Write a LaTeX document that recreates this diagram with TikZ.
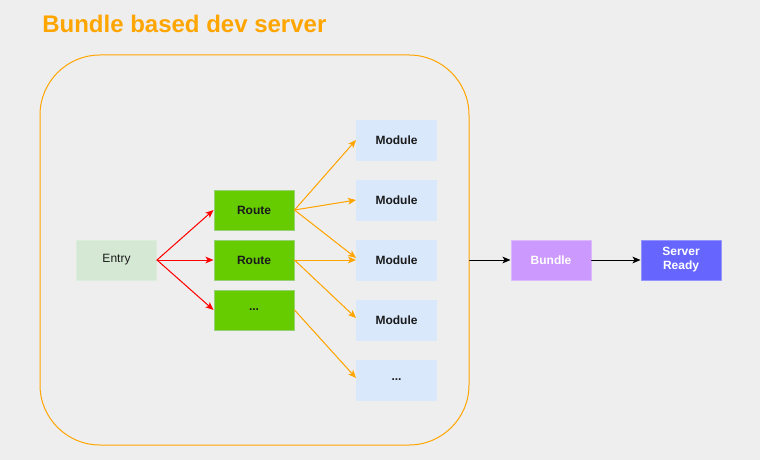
\documentclass[tikz,border=0pt]{standalone}
\usepackage{fontspec}
\setmainfont{Liberation Sans}
\usetikzlibrary{arrows.meta}

\definecolor{bgcol}{HTML}{EEEEEE}
\definecolor{titlecol}{HTML}{FFA500}
\definecolor{entrycol}{HTML}{D5E8D4}
\definecolor{routecol}{HTML}{66CC00}
\definecolor{routeline}{HTML}{97D077}
\definecolor{modcol}{HTML}{DAE8FC}
\definecolor{bundlecol}{HTML}{CC99FF}
\definecolor{servercol}{HTML}{6666FF}
\definecolor{txtcol}{HTML}{1A1A1A}

\begin{document}
\begin{tikzpicture}[x=0.75pt, y=-0.75pt, line cap=round, line join=round]
  \def\w{60pt} % 80px
  \def\h{30pt} % 40px
  \tikzset{
    box/.style={minimum width=\w, minimum height=\h, inner sep=0pt, align=center,
      line width=0.75pt, text=txtcol, font=\fontsize{9pt}{10.5pt}\selectfont\bfseries},
    entrybox/.style={box, fill=entrycol, draw=entrycol!80!white, font=\fontsize{9pt}{10.5pt}\selectfont},
    routebox/.style={box, fill=routecol, draw=routeline},
    modbox/.style={box, fill=modcol, draw=modcol},
    bundlebox/.style={box, fill=bundlecol, draw=bundlecol!70!white, text=white},
    serverbox/.style={box, fill=servercol, draw=servercol!70!white, text=white},
    tip/.style={-{Stealth[length=6pt, width=5pt, inset=1.5pt]}, line width=0.75pt},
    redarrow/.style={tip, draw=red, fill=red},
    orangearrow/.style={tip, draw=titlecol, fill=titlecol},
    blackarrow/.style={tip, draw=black, fill=black}
  }

  % background
  \fill[bgcol] (0,0) rectangle (760,460);
  \useasboundingbox (0,0) rectangle (760,460);

  \node[anchor=base west, inner sep=0pt, text=titlecol,
    font=\fontsize{18pt}{21pt}\selectfont\bfseries] (title) at (42,33) {Bundle based dev server};

  % frame
  \node[draw=titlecol, line width=0.75pt, rounded corners=45pt,
    minimum width=321.75pt, minimum height=292.5pt] (frame) at (254.5,250) {};

  \node[entrybox] (entry) at (116.5,260) {Entry};

  \node[routebox] (route1) at (254,210) {Route};
  \node[routebox] (route2) at (254,260) {Route};
  \node[routebox] (route3) at (254,310) {...};

  \node[modbox] (mod1) at (396.5,140) {Module};
  \node[modbox] (mod2) at (396.5,200) {Module};
  \node[modbox] (mod3) at (396.5,260) {Module};
  \node[modbox] (mod4) at (396.5,320) {Module};
  \node[modbox] (mod5) at (396.5,380) {...};

  \node[bundlebox] (bundle) at (551,260) {Bundle};
  \node[serverbox] (server) at (681,260) {Server\\Ready};

  \draw[redarrow] (entry.east) -- (route1.west);
  \draw[redarrow] (entry.east) -- (route2.west);
  \draw[redarrow] (entry.east) -- (route3.west);

  \draw[orangearrow] (route1.east) -- (mod1.west);
  \draw[orangearrow] (route1.east) -- (mod2.west);
  \draw[orangearrow] (route1.east) -- ([yshift=1.5pt]mod3.west);
  \draw[orangearrow] (route2.east) -- (mod3.west);
  \draw[orangearrow] (route2.east) -- ([yshift=1.5pt]mod4.west);
  \draw[orangearrow] (route3.east) -- ([yshift=1.5pt]mod5.west);

  \draw[blackarrow] (frame.east |- bundle.west) -- (bundle.west);
  \draw[blackarrow] (bundle.east) -- (server.west);

\end{tikzpicture}
\end{document}
